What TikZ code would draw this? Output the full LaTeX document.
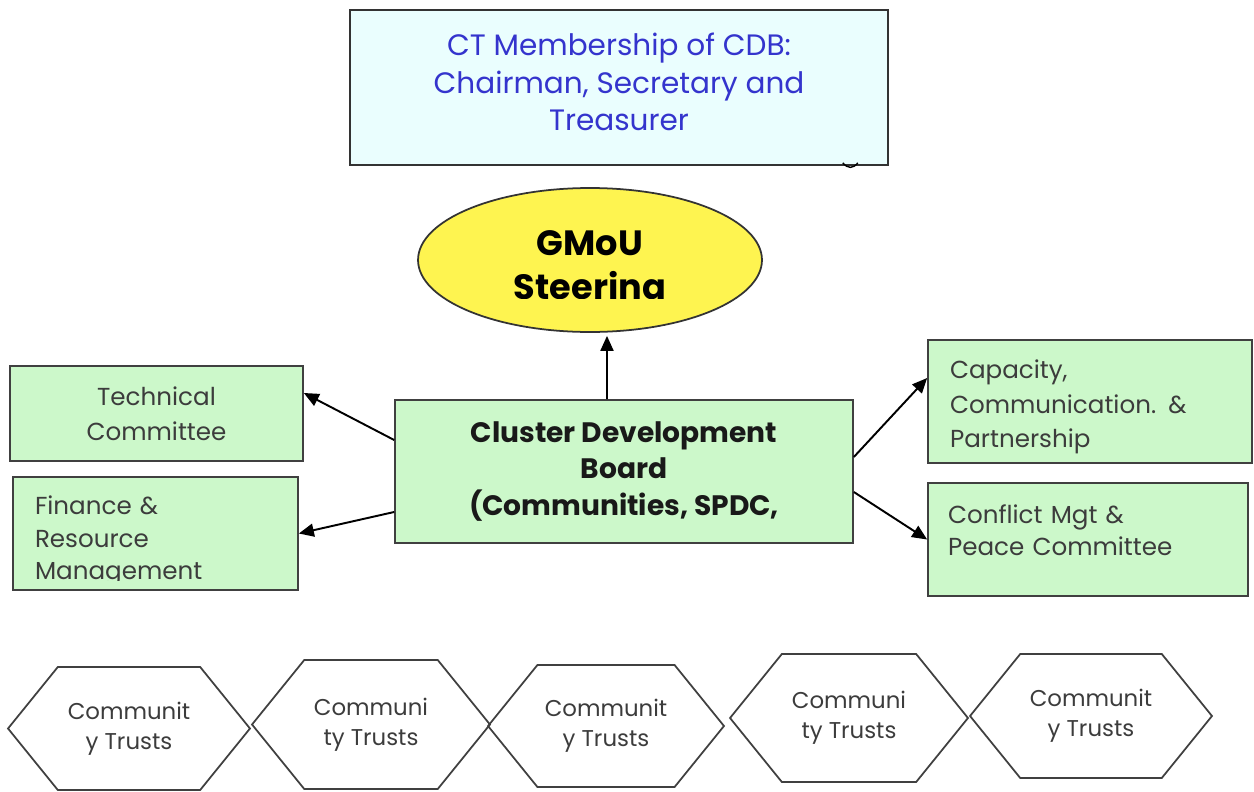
\documentclass[tikz,border=0pt]{standalone}
\usepackage{fontspec}
\setmainfont{Poppins}
\usetikzlibrary{shapes.geometric, shapes.symbols, arrows.meta, positioning, calc}

\definecolor{ctcyan}{RGB}{234,254,254}
\definecolor{ctblue}{RGB}{52,52,205}
\definecolor{boardgreen}{RGB}{204,248,202}
\definecolor{gmouyellow}{RGB}{254,244,80}
\definecolor{boxtext}{RGB}{60,60,60}

\begin{document}
\begin{tikzpicture}[
    x=0.02cm, y=-0.02cm,
    box/.style={rectangle, draw=black!75, line width=1pt, fill=boardgreen, text=boxtext, inner sep=0pt, align=center, font=\fontsize{14}{20}\selectfont},
    boxlabel/.style={text=boxtext, inner sep=0pt, align=left, font=\fontsize{14}{19.5}\selectfont},
    trust/.style={signal, signal to=west and east, signal pointer angle=102, draw=black!75, line width=1pt, inner sep=0pt, text=boxtext, align=center, font=\fontsize{13}{17}\selectfont},
    arrow/.style={-{Triangle[length=0.3cm, width=0.26cm]}, line width=1.1pt, draw=black}
]
\useasboundingbox (0,0) rectangle (1254,791);

% CT membership box on top
\node[rectangle, draw=black!80, line width=1pt, fill=ctcyan, minimum width=10.76cm, minimum height=3.1cm] (ct) at (619,87.5) {};
\node[text=ctblue, align=center, font=\fontsize{16.8}{21.3}\selectfont] (ct-txt) at (619,82) {CT Membership of CDB:\\Chairman, Secretary and\\Treasurer};
\draw[line width=0.8pt] ([xshift=-0.92cm,yshift=0.06cm]ct.south east) .. controls +(0.1cm,-0.12cm) and +(-0.1cm,-0.12cm) .. +(0.3cm,0);

% steering committee
\node[ellipse, draw=black!80, line width=1pt, fill=gmouyellow, minimum width=6.88cm, minimum height=2.88cm] (steer) at (590,260) {};
\begin{scope}
\clip (400,180) rectangle (780,298);
\node[align=center, font=\bfseries\fontsize{20}{25}\selectfont] (steer-txt) at (590,270) {GMoU\\Steering};
\end{scope}

% board and its committees
\node[box, text=black!90, minimum width=9.16cm, minimum height=2.86cm, font=\bfseries\fontsize{16}{21}\selectfont] (board) at (624,471.5) {Cluster Development\\Board\\(Communities, SPDC,};

\node[box, minimum width=5.86cm, minimum height=1.9cm] (tech) at (156.5,413.5) {Technical\\Committee};

\node[box, minimum width=5.7cm, minimum height=2.26cm] (fin) at (155.5,533.5) {};
\begin{scope}
\clip (20,480) rectangle (290,580);
\node[boxlabel, text width=4.82cm, font=\fontsize{14}{18.5}\selectfont] (fin-txt) at (155.5,541) {Finance \&\\Resource\\Management};
\end{scope}

\node[box, minimum width=6.48cm, minimum height=2.46cm] (cap) at (1090,401.5) {};
\node[boxlabel, text width=5.6cm] (cap-txt) at (1090,407) {Capacity,\\Communication. \&\\Partnership};

\node[box, minimum width=6.4cm, minimum height=2.26cm] (conf) at (1088,539.5) {};
\node[boxlabel, text width=5.6cm, font=\fontsize{14}{18}\selectfont] (conf-txt) at (1088,530) {Conflict Mgt \&\\Peace Committee};

\draw[arrow] ([xshift=-0.34cm]board.north) -- ([xshift=0.34cm,yshift=-0.06cm]steer.south);
\draw[arrow] ([yshift=0.63cm]board.west) -- ([yshift=0.41cm]tech.east);
\draw[arrow] ([yshift=-0.81cm]board.west) -- (fin.east);
\draw[arrow] ([yshift=0.29cm]board.east) -- ([yshift=0.47cm]cap.west);
\draw[arrow] ([yshift=-0.41cm]board.east) -- (conf.west);

% community trusts along the bottom
\node[trust, minimum width=4.84cm, minimum height=2.46cm] (trust1) at (129,728.5) {Communit\\y Trusts};
\node[trust, minimum width=4.76cm, minimum height=2.58cm] (trust2) at (371,724.5) {Communi\\ty Trusts};
\node[trust, minimum width=4.72cm, minimum height=2.44cm] (trust3) at (606,726) {Communit\\y Trusts};
\node[trust, minimum width=4.76cm, minimum height=2.56cm] (trust4) at (849,718) {Communi\\ty Trusts};
\node[trust, minimum width=4.84cm, minimum height=2.48cm] (trust5) at (1091,716) {Communit\\y Trusts};

\end{tikzpicture}
\end{document}
